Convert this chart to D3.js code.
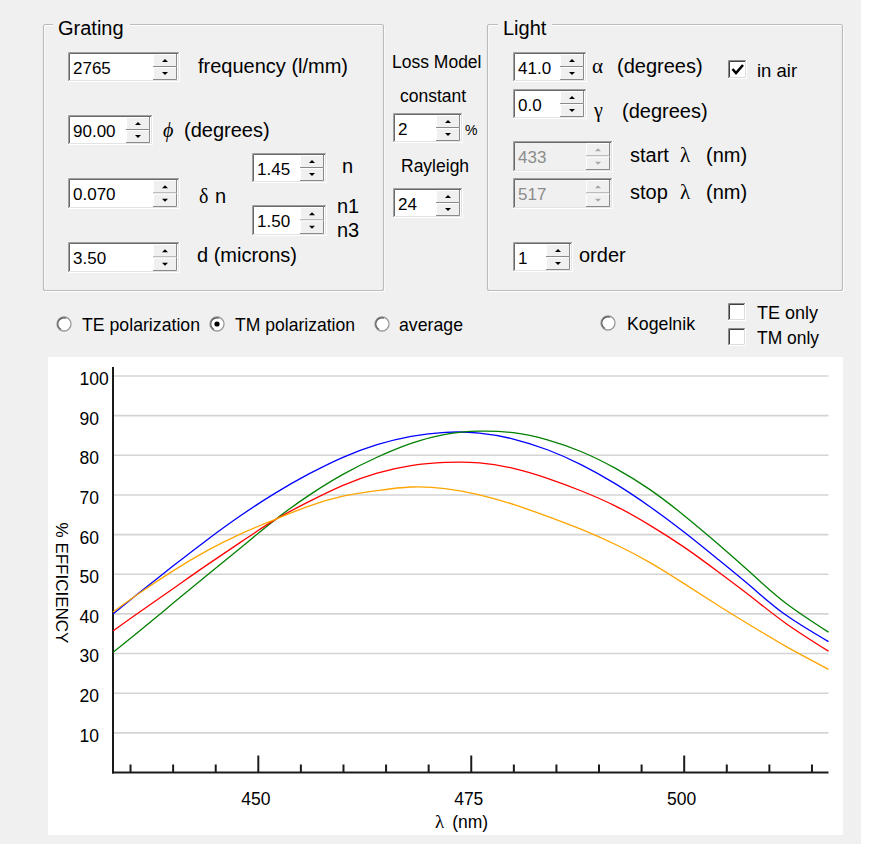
<!DOCTYPE html>
<html><head><meta charset="utf-8">
<script src="https://cdn.jsdelivr.net/npm/d3@7"></script>
<style>
html,body{margin:0;padding:0;background:#fff;}
svg{display:block;}
text{font-family:"Liberation Sans",Arial,sans-serif;fill:#000;}
.sym{font-family:"Liberation Serif","Times New Roman",serif;}
</style></head><body>
<svg id="c" width="884" height="847"></svg>
<script>
// ---- efficiency curves: wavelength (nm) vs % efficiency ----
const wavelengths = [433,436,440,444,448,452,456,460,464,468,472,476,480,484,488,492,496,500,504,508,512,517];
const blueEff   = [40.0,45.2,52.0,58.6,64.8,70.4,75.3,79.5,82.7,84.8,85.8,85.6,84.1,81.4,77.6,72.8,67.1,60.7,53.8,46.7,39.7,33.0];
const greenEff  = [30.3,35.5,42.6,49.7,56.7,63.7,69.9,75.2,79.5,83.0,85.3,86.1,85.7,83.9,80.9,76.7,71.4,64.9,57.7,50.1,42.7,35.4];
const redEff    = [35.7,40.3,46.3,52.3,58.1,63.7,68.3,72.4,75.5,77.4,78.2,78.1,76.7,74.2,71.0,67.2,62.4,56.9,50.7,44.2,37.6,30.6];
const orangeEff = [40.5,45.1,50.8,55.9,60.2,63.8,67.2,69.7,71.1,72.0,71.6,70.0,67.6,64.6,61.3,57.5,53.0,47.7,42.2,36.9,31.8,26.0];
const seriesColors = ["#0000ff","#008000","#ff0000","#ffa500"];

const yTicks = [10,20,30,40,50,60,70,80,90,100];
const xMajorTicks = [450,475,500];
const xMinorTicks = [435,440,445,455,460,465,470,480,485,490,495,505,510,515];
const lambdaRange = [433,517];

const svg = d3.select("#c");

// form background
svg.append("rect").attr("x",0).attr("y",0).attr("width",861).attr("height",844).attr("fill","#f0f0f0");

// ---------- control helpers ----------
function groupBox(x,y,w,h,title,tx,tw){
  const g = svg.append("g");
  g.append("rect").attr("x",x+1.5).attr("y",y+1.5).attr("width",w).attr("height",h)
    .attr("fill","none").attr("stroke","#fff").attr("stroke-width",1.2).attr("rx",2);
  g.append("rect").attr("x",x+0.5).attr("y",y+0.5).attr("width",w).attr("height",h)
    .attr("fill","none").attr("stroke","#bcbcbc").attr("stroke-width",1.2).attr("rx",2);
  g.append("rect").attr("x",tx-5).attr("y",y-4).attr("width",tw+10).attr("height",10).attr("fill","#f0f0f0");
  g.append("text").attr("x",tx).attr("y",y+11).style("font-size","20px").text(title);
}

function spinBox(c){
  const {x,y,w,h,text,disabled} = c;
  const g = svg.append("g");
  const x2 = x+w, y2 = y+h, bw = 24;
  g.append("rect").attr("x",x).attr("y",y).attr("width",w).attr("height",h).attr("fill",disabled?"#f0f0f0":"#fff");
  g.append("path").attr("d",`M${x+0.5},${y2} V${y+0.5} H${x2}`).attr("stroke","#a0a0a0").attr("fill","none");
  g.append("path").attr("d",`M${x+1.5},${y2-1} V${y+1.5} H${x2-1}`).attr("stroke","#696969").attr("fill","none");
  g.append("path").attr("d",`M${x},${y2-0.5} H${x2-0.5} V${y}`).attr("stroke","#fff").attr("fill","none");
  g.append("path").attr("d",`M${x+1},${y2-1.5} H${x2-1.5} V${y+1}`).attr("stroke","#e3e3e3").attr("fill","none");
  const bx = x2-bw-3, by = y+2, bh = (h-4)/2;
  [0,1].forEach(i=>{
    const yy = by+i*bh;
    g.append("rect").attr("x",bx).attr("y",yy).attr("width",bw).attr("height",bh).attr("fill","#f0f0f0");
    g.append("path").attr("d",`M${bx+0.5},${yy+bh} V${yy+0.5} H${bx+bw}`).attr("stroke","#fff").attr("fill","none");
    g.append("path").attr("d",`M${bx},${yy+bh-0.5} H${bx+bw-0.5} V${yy}`).attr("stroke","#8a8a8a").attr("fill","none");
    const cx = bx+bw/2, cy = yy+bh/2;
    const d = i===0 ? `M${cx-3},${cy+1.5} L${cx+3},${cy+1.5} L${cx},${cy-1.5} Z`
                    : `M${cx-3},${cy-1.5} L${cx+3},${cy-1.5} L${cx},${cy+1.5} Z`;
    g.append("path").attr("d",d).attr("fill",disabled?"#a8a8a8":"#000");
  });
  g.append("text").attr("x",x+5).attr("y",y+h/2+6.5).style("font-size","17px")
    .style("fill",disabled?"#8c8c8c":"#000").text(text);
}

function label(x,y,str,size,cls,extra){
  const t = svg.append("text").attr("x",x).attr("y",y).style("font-size",(size||20)+"px").text(str);
  if(cls) t.attr("class",cls);
  if(extra) extra(t);
  return t;
}

function radio(cx,cy,on){
  const g = svg.append("g");
  g.append("circle").attr("cx",cx).attr("cy",cy).attr("r",7).attr("fill","#fff").attr("stroke","#9a9a9a").attr("stroke-width",1.3);
  g.append("path").attr("d",d3.arc()({innerRadius:5.6,outerRadius:6.8,startAngle:-Math.PI*0.85,endAngle:Math.PI*0.1}))
    .attr("transform",`translate(${cx},${cy})`).attr("fill","#5a5a5a");
  if(on) g.append("circle").attr("cx",cx).attr("cy",cy).attr("r",2.6).attr("fill","#000");
}

function checkBox(x,y,s,on){
  const g = svg.append("g");
  g.append("rect").attr("x",x).attr("y",y).attr("width",s).attr("height",s).attr("fill","#fff");
  g.append("path").attr("d",`M${x+0.5},${y+s} V${y+0.5} H${x+s}`).attr("stroke","#8a8a8a").attr("fill","none");
  g.append("path").attr("d",`M${x+1.5},${y+s-1} V${y+1.5} H${x+s-1}`).attr("stroke","#404040").attr("fill","none");
  g.append("path").attr("d",`M${x},${y+s-0.5} H${x+s-0.5} V${y}`).attr("stroke","#fff").attr("fill","none");
  g.append("path").attr("d",`M${x+1},${y+s-1.5} H${x+s-1.5} V${y+1}`).attr("stroke","#dcdcdc").attr("fill","none");
  if(on) g.append("path").attr("d",`M${x+4.5},${y+9} L${x+8},${y+13} L${x+15},${y+5}`)
    .attr("fill","none").attr("stroke","#000").attr("stroke-width",2.6);
}

// ---------- Grating group ----------
groupBox(43,24,340,266,"Grating",58,67);
spinBox({x:68,y:52,w:112,h:30,text:"2765"});
label(198,73,"frequency (l/mm)");
spinBox({x:68,y:115,w:85,h:30,text:"90.00"});
label(163,137,"ϕ","20","sym",t=>t.style("font-style","italic"));
label(184,137,"(degrees)");
spinBox({x:252,y:153,w:75,h:30,text:"1.45"});
label(342,173,"n");
spinBox({x:68,y:178,w:112,h:31,text:"0.070"});
label(199,203,"δ",20,"sym");
label(215,203,"n");
spinBox({x:252,y:205,w:75,h:31,text:"1.50"});
label(337,213,"n1");
label(337,237,"n3");
spinBox({x:68,y:242,w:112,h:31,text:"3.50"});
label(197,262,"d (microns)");

// ---------- loss model ----------
label(392,68,"Loss Model",17.5);
label(400,102,"constant",17.5);
spinBox({x:393,y:113,w:70,h:30,text:"2"});
label(465,135,"%",14);
label(401,172,"Rayleigh",17.5);
spinBox({x:393,y:188,w:70,h:30,text:"24"});

// ---------- Light group ----------
groupBox(487,24,355,266,"Light",503,44);
spinBox({x:513,y:52,w:74,h:30,text:"41.0"});
label(592,73,"α",21,"sym");
label(617,73,"(degrees)");
checkBox(728,60,19,true);
label(757,77,"in air",18.5);
spinBox({x:513,y:89,w:74,h:30,text:"0.0"});
label(594,117,"γ",20,"sym");
label(622,118,"(degrees)");
spinBox({x:513,y:141,w:100,h:31,text:"433",disabled:true});
label(630,162,"start",20);
label(680,162,"λ",21,"sym");
label(706,162,"(nm)",20);
spinBox({x:513,y:178,w:100,h:31,text:"517",disabled:true});
label(630,199,"stop",20);
label(680,199,"λ",21,"sym");
label(706,199,"(nm)",20);
spinBox({x:513,y:242,w:60,h:30,text:"1"});
label(579,262,"order");

// ---------- options row ----------
radio(64,324,false);
label(82,331,"TE polarization",19,null,t=>t.attr("textLength",118).attr("lengthAdjust","spacingAndGlyphs"));
radio(217,324,true);
label(235,331,"TM polarization",19,null,t=>t.attr("textLength",120).attr("lengthAdjust","spacingAndGlyphs"));
radio(382,324,false);
label(399,331,"average",19,null,t=>t.attr("textLength",64).attr("lengthAdjust","spacingAndGlyphs"));
radio(608,323,false);
label(627,330,"Kogelnik",19,null,t=>t.attr("textLength",68).attr("lengthAdjust","spacingAndGlyphs"));
checkBox(728,303,18,false);
label(757,319,"TE only",19,null,t=>t.attr("textLength",61).attr("lengthAdjust","spacingAndGlyphs"));
checkBox(728,328,18,false);
label(757,344,"TM only",19,null,t=>t.attr("textLength",62).attr("lengthAdjust","spacingAndGlyphs"));

// ---------- chart ----------
svg.append("rect").attr("x",48).attr("y",357).attr("width",795).attr("height",478).attr("fill","#fff");

const x = d3.scaleLinear().domain(lambdaRange).range([113,828.5]);
const y = d3.scaleLinear().domain([0,100]).range([772.5,376]);

const chart = svg.append("g");

// horizontal grid
chart.append("g").selectAll("line").data(yTicks).join("line")
  .attr("x1",x(lambdaRange[0])).attr("x2",x(lambdaRange[1]))
  .attr("y1",d=>y(d)).attr("y2",d=>y(d))
  .attr("stroke","#d4d4d4").attr("stroke-width",1.6);

// y tick labels
const yAxis = chart.append("g").attr("transform",`translate(${x(lambdaRange[0])},0)`)
  .call(d3.axisLeft(y).tickValues(yTicks).tickSize(0).tickPadding(0));
yAxis.select(".domain").remove();
yAxis.selectAll("text").attr("text-anchor","start").attr("x",-33.5).attr("dy","0.48em")
  .style("font-size","17.5px").style("font-family","'Liberation Sans',Arial,sans-serif").attr("fill","#1a1a1a");

// x ticks pointing inward, minor then major
const xMinor = chart.append("g").attr("transform",`translate(0,${y(0)})`)
  .call(d3.axisBottom(x).tickValues(xMinorTicks).tickSize(-8).tickFormat(""));
xMinor.select(".domain").remove();
xMinor.selectAll("line").attr("stroke","#1a1a1a").attr("stroke-width",2);

const xMajor = chart.append("g").attr("transform",`translate(0,${y(0)})`)
  .call(d3.axisBottom(x).tickValues(xMajorTicks).tickSize(-17).tickPadding(20.5).tickFormat(d3.format("d")));
xMajor.select(".domain").remove();
xMajor.selectAll("line").attr("stroke","#1a1a1a").attr("stroke-width",2);
xMajor.selectAll("text").attr("dx","-2.5").style("font-size","17.5px")
  .style("font-family","'Liberation Sans',Arial,sans-serif").attr("fill","#1a1a1a");

// axis lines
chart.append("line").attr("x1",x(lambdaRange[0])).attr("x2",x(lambdaRange[0])).attr("y1",367).attr("y2",y(0)+1)
  .attr("stroke","#1a1a1a").attr("stroke-width",2);
chart.append("line").attr("x1",x(lambdaRange[0])-1).attr("x2",x(lambdaRange[1])).attr("y1",y(0)).attr("y2",y(0))
  .attr("stroke","#1a1a1a").attr("stroke-width",2);

// curves
const line = d3.line().x((d,i)=>x(wavelengths[i])).y(d=>y(d)).curve(d3.curveNatural);
[blueEff,greenEff,redEff,orangeEff].forEach((s,k)=>{
  chart.append("path").datum(s).attr("d",line).attr("fill","none")
    .attr("stroke",seriesColors[k]).attr("stroke-width",1.3);
});

// axis titles
const xt = chart.append("text").attr("x",435).attr("y",828).style("font-size","17.5px");
xt.append("tspan").attr("class","sym").style("font-size","19px").text("λ");
xt.append("tspan").attr("dx",8).text("(nm)");
chart.append("text").attr("transform","translate(62,583) rotate(90)").attr("text-anchor","middle")
  .attr("dy","0.35em").style("font-size","17px").attr("fill","#1a1a1a").text("% EFFICIENCY");
</script>
</body></html>
